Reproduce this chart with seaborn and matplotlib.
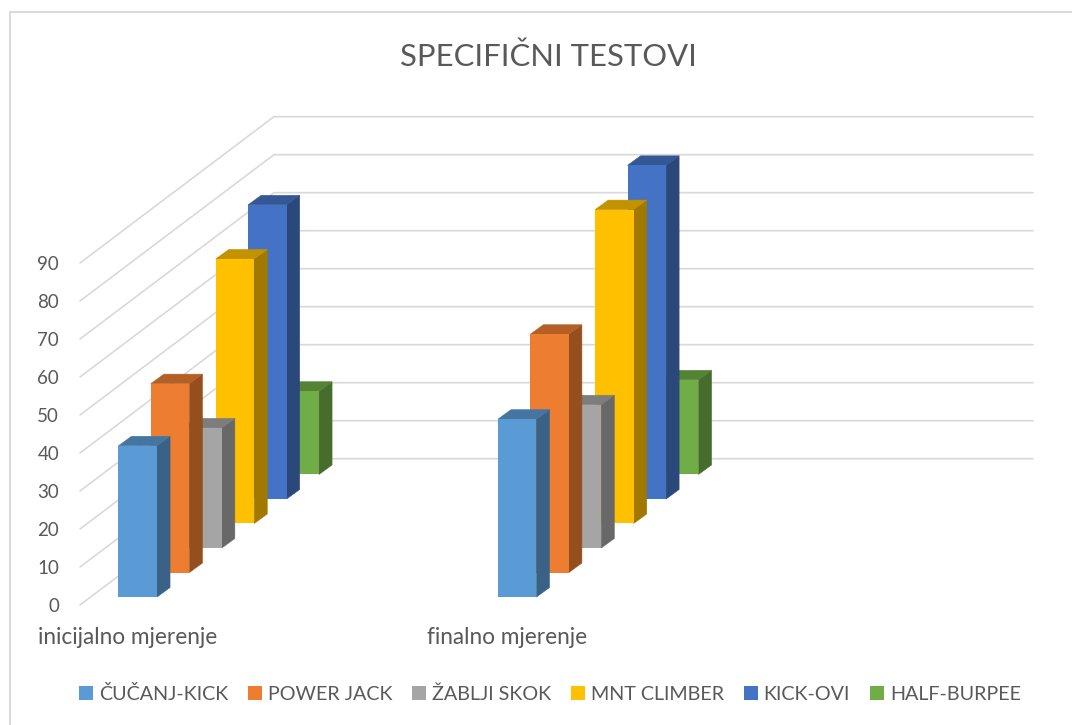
import pandas as pd
import matplotlib
matplotlib.use('Agg')
import matplotlib.pyplot as plt
from matplotlib.colors import to_rgb
from matplotlib.patches import Rectangle
import seaborn as sns

# --- Data ---
categories = ['inicijalno mjerenje', 'finalno mjerenje']
tests = ['ČUČANJ-KICK', 'POWER JACK', 'ŽABLJI SKOK', 'MNT CLIMBER', 'KICK-OVI', 'HALF-BURPEE']
cucanj_kick = [39.8, 46.8]
power_jack = [49.7, 62.7]
zablji_skok = [31.6, 37.7]
mnt_climber = [69.6, 82.6]
kick_ovi = [77.4, 87.8]
half_burpee = [21.9, 24.9]
colors = ['#5B9BD5', '#ED7D31', '#A5A5A5', '#FFC000', '#4472C4', '#70AD47']
y_ticks = list(range(0, 100, 10))

# --- Table for seaborn ---
series = [cucanj_kick, power_jack, zablji_skok, mnt_climber, kick_ovi, half_burpee]
rows = []
for test, values in zip(tests, series):
    for cat, val in zip(categories, values):
        rows.append({'mjerenje': cat, 'test': test, 'value': val})
df = pd.DataFrame(rows)

# --- Fake 3D geometry, in data units ---
WALL_DX, WALL_DY = 0.511, 38.5
STEP_DX, STEP_DY = 0.0854, 6.45
FIRST_DX, FIRST_DY = 0.0257, 2.1
BAR_DX, BAR_DY = 0.0343, 2.5
XMIN, XMAX = -0.1265, 2.385
GRID = '#D9D9D9'
TEXT = '#595959'


def shade(color, factor):
    return tuple(c * factor for c in to_rgb(color))


sns.set_theme(style='white')
plt.rcParams['font.family'] = ['Lato', 'DejaVu Sans']

fig = plt.figure(figsize=(10.72, 7.25), dpi=100)
ax = fig.add_axes([80 / 1072, 120 / 725, 953 / 1072, 342 / 725])

sns.barplot(data=df, x='mjerenje', y='value', hue='test', hue_order=tests, order=categories,
            palette=colors, dodge=False, width=0.1015, saturation=1, linewidth=0, ax=ax)

ax.set_xlim(XMIN, XMAX)
ax.set_ylim(0, 90)
ax.set_xlabel('')
ax.set_ylabel('')
ax.set_yticks(y_ticks)
ax.tick_params(axis='y', length=0, pad=15, labelsize=13.5, labelcolor=TEXT)
ax.tick_params(axis='x', length=0, pad=16, labelsize=16.3, labelcolor=TEXT)
sns.despine(ax=ax, left=True, bottom=True)

# Walls of the 3D box
for v in y_ticks:
    ax.plot([XMIN, XMIN + WALL_DX, XMAX], [v, v + WALL_DY, v + WALL_DY],
            color=GRID, lw=1.2, zorder=1, clip_on=False)

# Push each series back in depth and add the side and top faces
for i, container in enumerate(ax.containers):
    z = 20 - i
    for bar in container:
        bar.set_x(bar.get_x() + FIRST_DX + STEP_DX * i)
        bar.set_y(FIRST_DY + STEP_DY * i)
        bar.set_zorder(z + 0.5)
        bar.set_clip_on(False)
        x0, y0 = bar.get_x(), bar.get_y()
        x1, y1 = x0 + bar.get_width(), y0 + bar.get_height()
        ax.fill([x1, x1 + BAR_DX, x1 + BAR_DX, x1], [y0, y0 + BAR_DY, y1 + BAR_DY, y1],
                color=shade(colors[i], 0.63), lw=0.4, zorder=z, clip_on=False)
        ax.fill([x0, x0 + BAR_DX, x1 + BAR_DX, x1], [y1, y1 + BAR_DY, y1 + BAR_DY, y1],
                color=shade(colors[i], 0.76), lw=0.4, zorder=z, clip_on=False)

handles, labels = ax.get_legend_handles_labels()
ax.legend(handles, labels, ncols=6, frameon=False, fontsize=14.2, labelcolor=TEXT,
          loc='center', bbox_to_anchor=(550 / 1072, 1 - 694 / 725), bbox_transform=fig.transFigure,
          handlelength=0.71, handleheight=0.71, handletextpad=0.3, columnspacing=1.0)

fig.suptitle('SPECIFIČNI TESTOVI', x=548 / 1072, y=1 - 57 / 725, va='center', fontsize=22.3, color=TEXT)

# Chart frame, runs off the right and bottom of the picture
fig.add_artist(Rectangle((10 / 1072, -0.05), 1.1, 1 - 12 / 725 + 0.05, transform=fig.transFigure,
                         fill=False, edgecolor=GRID, lw=1.4))

plt.savefig('out.png', dpi=100)
plt.close()
